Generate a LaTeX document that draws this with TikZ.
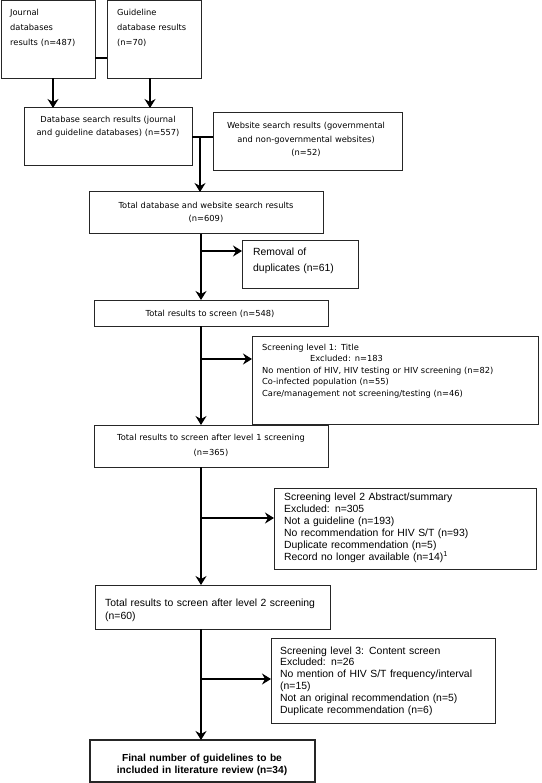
\documentclass[tikz,border=0pt]{standalone}
\usepackage{fontspec}
\setmainfont{Liberation Sans}
\newfontfamily\topfont{DejaVu Sans}
\usetikzlibrary{arrows.meta,calc}
\begin{document}
\begin{tikzpicture}[x=1pt,y=-1pt,
  box/.style={draw=black!85, line width=1pt, inner sep=0pt, outer sep=0pt, anchor=north west},
  flow/.style={line width=2.6pt, -{Stealth[length=9pt,width=11pt,inset=3pt]}},
  link/.style={line width=2.6pt},
  tl/.style={font=\topfont\fontsize{8.3pt}{#1pt}\selectfont, inner sep=0pt, align=left, anchor=base west, text width=250pt},
  tc/.style={font=\topfont\fontsize{8.3pt}{#1pt}\selectfont, inner sep=0pt, align=center, anchor=base, text width=230pt},
  al/.style={font=\fontsize{10.4pt}{#1pt}\selectfont, inner sep=0pt, align=left, anchor=base west, text width=250pt},
  ac/.style={font=\bfseries\fontsize{10.2pt}{#1pt}\selectfont, inner sep=0pt, align=center, anchor=base, text width=230pt}
]
\useasboundingbox[fill=white] (0,0) rectangle (541,783);

% boxes
\node[box, minimum width=94pt, minimum height=78pt] (jr) at (1,0.5) {};
\node[box, minimum width=94pt, minimum height=78pt] (gl) at (107,0.5) {};
\node[box, minimum width=168pt, minimum height=58pt] (db) at (24,108) {};
\node[box, minimum width=189pt, minimum height=58pt] (ws) at (213,113) {};
\node[box, minimum width=234pt, minimum height=42pt] (tdb) at (89,192) {};
\node[box, minimum width=116pt, minimum height=47pt] (rm) at (242,241) {};
\node[box, minimum width=234pt, minimum height=26pt] (ts) at (94,300) {};
\node[box, minimum width=286pt, minimum height=88pt] (l1) at (252,336) {};
\node[box, minimum width=234pt, minimum height=42pt] (tl1) at (94,425) {};
\node[box, minimum width=262pt, minimum height=81pt] (l2) at (274,488) {};
\node[box, minimum width=235pt, minimum height=44pt] (tl2) at (95,585) {};
\node[box, minimum width=224pt, minimum height=85pt] (l3) at (271,638) {};
\node[box, line width=1.6pt, minimum width=225pt, minimum height=42pt] (fin) at (90,740) {};

% texts
\node[tl=15] (jrt) at (10,16) {Journal\\databases\\results (n=487)};
\node[tl=15] (glt) at (117,16) {Guideline\\database results\\(n=70)};
\node[tc=13] (dbt) at (108,123) {Database search results (journal\\and guideline databases) (n=557)};
\node[tc=13.5] (wst) at (306,129) {Website search results (governmental\\and non-governmental websites)\\(n=52)};
\node[tc=13] (tdbt) at (206,209) {Total database and website search results\\(n=609)};
\node[al=16] (rmt) at (253,255) {Removal of\\duplicates (n=61)};
\node[tc=13] (tst) at (210,316) {Total results to screen (n=548)};
\node[tl=11.5] (l1t) at (262,350) {Screening level 1: Title\\\hspace*{48pt}Excluded: n=183\\No mention of HIV, HIV testing or HIV screening (n=82)\\Co-infected population (n=55)\\Care/management not screening/testing (n=46)};
\node[tc=15] (tl1t) at (211,440) {Total results to screen after level 1 screening\\(n=365)};
\node[al=12] (l2t) at (284,500.5) {Screening level 2 Abstract/summary\\Excluded: n=305\\Not a guideline (n=193)\\No recommendation for HIV S/T (n=93)\\Duplicate recommendation (n=5)\\Record no longer available (n=14)\textsuperscript{1}};
\node[al=13] (tl2t) at (105,606.5) {Total results to screen after level 2 screening\\(n=60)};
\node[al=11.8] (l3t) at (280,654) {Screening level 3: Content screen\\Excluded: n=26\\No mention of HIV S/T frequency/interval\\(n=15)\\Not an original recommendation (n=5)\\Duplicate recommendation (n=6)};
\node[ac=12] (fint) at (202,761) {Final number of guidelines to be\\included in literature review (n=34)};

% helper coordinates
\coordinate (jx) at (53,0);
\coordinate (gx) at (150,0);
\coordinate (jg) at (0,58);
\coordinate (wl) at (0,137);
\coordinate (wx) at (200,137);
\coordinate (tk) at (201,0);
\coordinate (b1) at (201,251);
\coordinate (b2) at (201,359);
\coordinate (b3) at (201,518);
\coordinate (b4) at (201,679);

% connectors
\draw[link] (jr.east |- jg) -- (gl.west |- jg);
\draw[flow] (jr.south -| jx) -- (db.north -| jx);
\draw[flow] (gl.south -| gx) -- (db.north -| gx);
\draw[link] (db.east |- wl) -- (ws.west |- wl);
\draw[flow] (wx) -- (tdb.north -| wx);
\draw[flow] (tdb.south -| tk) -- (ts.north -| tk);
\draw[flow] (b1) -- (rm.west |- b1);
\draw[flow] (ts.south -| tk) -- (tl1.north -| tk);
\draw[flow] (b2) -- (l1.west |- b2);
\draw[flow] (tl1.south -| tk) -- (tl2.north -| tk);
\draw[flow] (b3) -- (l2.west |- b3);
\draw[flow] (tl2.south -| tk) -- (fin.north -| tk);
\draw[flow] (b4) -- (l3.west |- b4);
\end{tikzpicture}
\end{document}
